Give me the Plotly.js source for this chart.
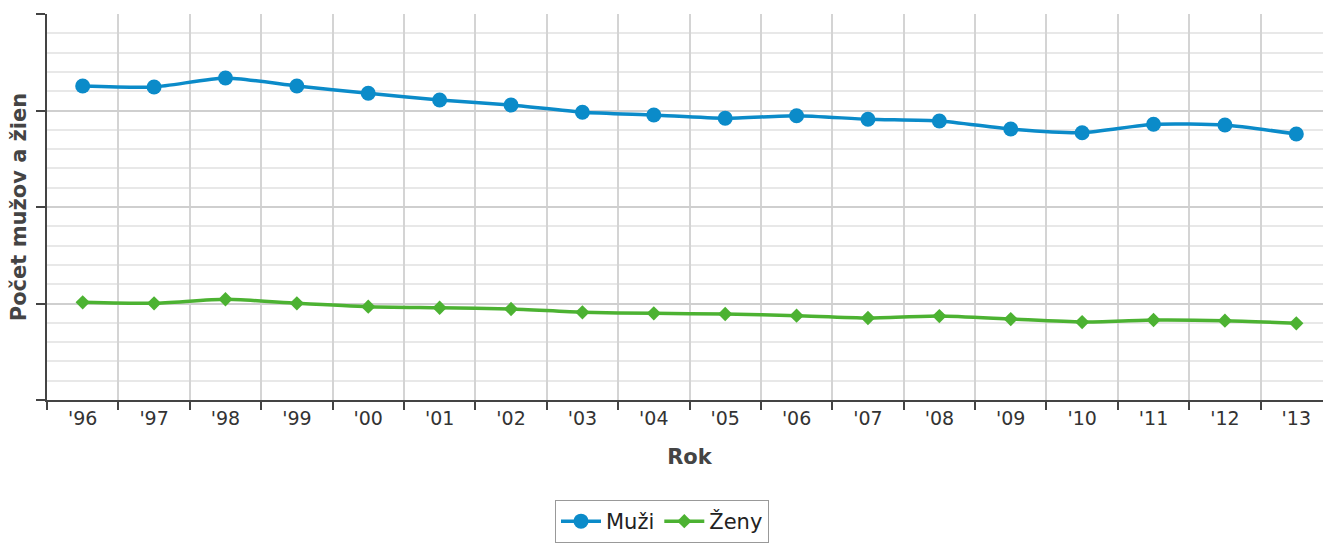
<!DOCTYPE html>
<html>
<head>
<meta charset="utf-8">
<script src="https://cdn.plot.ly/plotly-3.0.1.min.js"></script>
<style>
html,body{margin:0;padding:0;overflow:hidden;background:#fff;}
#chart{width:1340px;height:547px;}
</style>
</head>
<body>
<div id="chart"></div>
<script>
var years = ["'96","'97","'98","'99","'00","'01","'02","'03","'04","'05","'06","'07","'08","'09","'10","'11","'12","'13"];
var muzi = [3254,3244,3337,3254,3178,3109,3057,2982,2953,2919,2946,2909,2891,2808,2770,2857,2850,2756];
var zeny = [1012,1002,1044,1002,967,956,943,909,898,891,874,850,870,839,808,829,822,795];
var seriesNames = ["Muži","Ženy"];
var colors = ["#0b8bc9","#4cb232"];

var font = "DejaVu Sans, sans-serif";

var traces = [
  {
    x: years, y: muzi, name: seriesNames[0], type: 'scatter', mode: 'lines+markers',
    line: {color: colors[0], width: 3.5, shape: 'spline', smoothing: 0.6},
    marker: {symbol: 'circle', size: 15, color: colors[0]}
  },
  {
    x: years, y: zeny, name: seriesNames[1], type: 'scatter', mode: 'lines+markers',
    line: {color: colors[1], width: 3.5, shape: 'spline', smoothing: 0.6},
    marker: {symbol: 'diamond', size: 11, color: colors[1]}
  }
];

var layout = {
  width: 1340, height: 547,
  margin: {l: 47, r: 8, t: 14, b: 147},
  paper_bgcolor: '#fff', plot_bgcolor: '#fff',
  font: {family: font, color: '#333'},
  showlegend: true,
  legend: {
    orientation: 'h', xref: 'container', yref: 'container',
    x: 662/1340, xanchor: 'center', y: (547-500)/547, yanchor: 'top',
    bordercolor: '#999', borderwidth: 1, bgcolor: '#fff',
    itemwidth: 40,
    font: {family: font, size: 21, color: '#222'}
  },
  xaxis: {
    type: 'category', range: [-0.5, 17.5], tickson: 'boundaries',
    showgrid: true, gridcolor: '#d4d4d4', gridwidth: 2,
    showline: true, linecolor: '#444', linewidth: 2,
    ticks: 'outside', ticklen: 8, tickwidth: 2, tickcolor: '#444',
    tickfont: {family: font, size: 19, color: '#333'},
    title: {text: 'Rok', font: {family: font, size: 21, color: '#444', weight: 'bold'}, standoff: 22},
    zeroline: false, fixedrange: true
  },
  yaxis: {
    range: [0, 4000], dtick: 1000, tick0: 0,
    showgrid: true, gridcolor: '#cfcfcf', gridwidth: 2,
    minor: {dtick: 200, showgrid: true, gridcolor: '#e8e8e8', gridwidth: 2, ticks: ''},
    showline: true, linecolor: '#444', linewidth: 2,
    ticks: 'outside', ticklen: 9, tickwidth: 2, tickcolor: '#444',
    showticklabels: false, zeroline: false,
    title: {text: 'Počet mužov a žien', font: {family: font, size: 21, color: '#444', weight: 'bold'}, standoff: 4},
    fixedrange: true
  }
};

Plotly.newPlot('chart', traces, layout, {displayModeBar: false, staticPlot: true});
</script>
</body>
</html>
